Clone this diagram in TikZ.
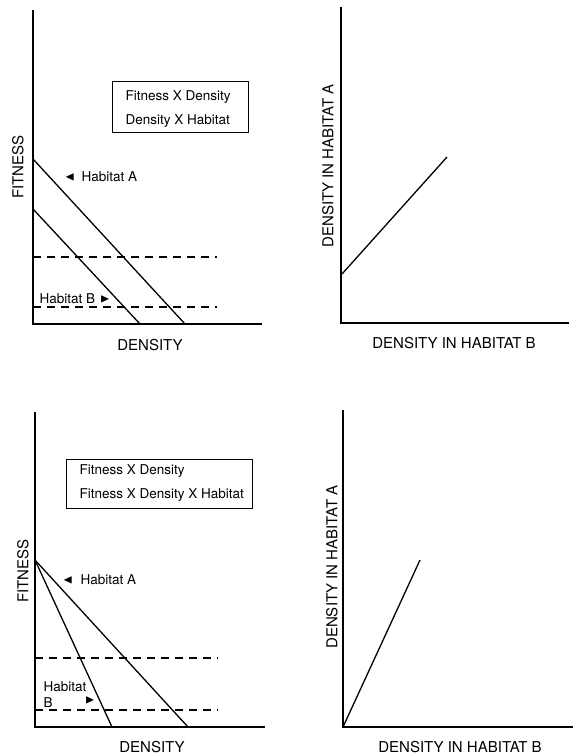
\documentclass[tikz,border=0pt]{standalone}
\usepackage{amssymb}
\usepackage{fontspec}
\setmainfont{TeX Gyre Heros}
\usetikzlibrary{positioning}

\begin{document}
\begin{tikzpicture}[x=1pt,y=-1pt,line width=1.3pt,
  lbl/.style={font=\fontsize{13.5}{17}\selectfont,inner sep=0pt},
  axlbl/.style={font=\fontsize{15}{18}\selectfont,inner sep=0pt},
  tri/.style={font=\fontsize{12.5}{14}\selectfont,inner sep=0pt},
  dashline/.style={line width=1.2pt,dash pattern=on 8pt off 6pt}]
\useasboundingbox (0,0) rectangle (576,755);

% upper left: fitness against density
\coordinate (O1) at (33,324);
\coordinate (Y1) at (33,10);
\coordinate (X1) at (262,324);
\coordinate (A1) at (33,159);
\coordinate (A1e) at (185,324);
\coordinate (B1) at (33,209);
\coordinate (B1e) at (140,324);
\coordinate (D1) at (33,257);
\coordinate (D1e) at (217,257);
\coordinate (E1) at (33,307);
\coordinate (E1e) at (217,307);

\draw (Y1) -- (O1) -- (X1);
\draw (A1) -- (A1e);
\draw (B1) -- (B1e);
\draw[dashline] (D1) -- (D1e);
\draw[dashline] (E1) -- (E1e);
\draw[line width=0.8pt] (112,81) rectangle (248,132);

\node[lbl,anchor=base west] (k1) at (125,100) {Fitness X Density};
\node[lbl,anchor=base west] (k2) at (125,124) {Density X Habitat};
\node[tri] (ma1) at (70,177) {$\blacktriangleleft$};
\node[lbl,anchor=base west] (ha1) at (81,181) {Habitat A};
\node[lbl,anchor=base west] (hb1) at (39,303) {Habitat B};
\node[tri] (mb1) at (105,299) {$\blacktriangleright$};
\node[axlbl,rotate=90] (fit1) at (18,167) {FITNESS};
\node[axlbl] (den1) at (150,345) {DENSITY};

% upper right: density in A against density in B
\coordinate (O2) at (341,323);
\coordinate (Y2) at (341,7);
\coordinate (X2) at (569,323);
\coordinate (L2) at (342,274);
\coordinate (L2e) at (447,157);

\draw (Y2) -- (O2) -- (X2);
\draw (L2) -- (L2e);
\node[axlbl,rotate=90] (da2) at (328,166) {DENSITY IN HABITAT A};
\node[axlbl] (db2) at (454,343) {DENSITY IN HABITAT B};

% lower left
\coordinate (O3) at (35,727);
\coordinate (Y3) at (35,412);
\coordinate (X3) at (265,727);
\coordinate (P3) at (35,560);
\coordinate (A3e) at (188,727);
\coordinate (B3e) at (112,727);
\coordinate (D3) at (35,658);
\coordinate (D3e) at (218,658);
\coordinate (E3) at (35,710);
\coordinate (E3e) at (218,710);

\draw (Y3) -- (O3) -- (X3);
\draw (P3) -- (A3e);
\draw (P3) -- (B3e);
\draw[dashline] (D3) -- (D3e);
\draw[dashline] (E3) -- (E3e);
\draw[line width=0.8pt] (66,459) rectangle (252,508);

\node[lbl,anchor=base west] (k3) at (79,474) {Fitness X Density};
\node[lbl,anchor=base west] (k4) at (79,498) {Fitness X Density X Habitat};
\node[tri] (ma3) at (68,580) {$\blacktriangleleft$};
\node[lbl,anchor=base west] (ha3) at (80,584) {Habitat A};
\node[lbl,anchor=base west] (hb3) at (43,691) {Habitat};
\node[lbl,anchor=base west] (hb4) at (43,707) {B};
\node[tri] (mb3) at (90,700) {$\blacktriangleright$};
\node[axlbl,rotate=90] (fit3) at (23,571) {FITNESS};
\node[axlbl] (den3) at (152,747) {DENSITY};

% lower right
\coordinate (O4) at (343,727);
\coordinate (Y4) at (343,410);
\coordinate (X4) at (573,727);
\coordinate (L4e) at (420,560);

\draw (Y4) -- (O4) -- (X4);
\draw (O4) -- (L4e);
\node[axlbl,rotate=90] (da4) at (332,567) {DENSITY IN HABITAT A};
\node[axlbl] (db4) at (460,747) {DENSITY IN HABITAT B};
\end{tikzpicture}
\end{document}
